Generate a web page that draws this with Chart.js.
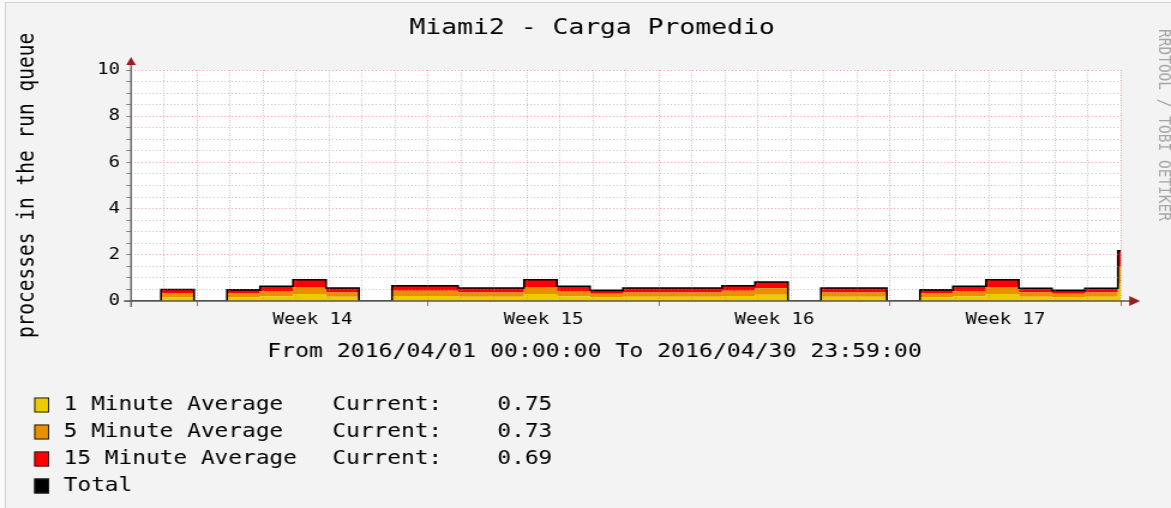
<!DOCTYPE html>
<html>
<head>
<meta charset="utf-8">
<script src="https://cdn.jsdelivr.net/npm/chart.js@4/dist/chart.umd.min.js"></script>
<style>
  html, body { margin: 0; padding: 0; background: #f3f3f3; overflow: hidden; }
  #wrap { width: 1171px; height: 508px; }
  canvas { display: block; }
</style>
</head>
<body>
<div id="wrap"><canvas id="c" width="976" height="508" style="width:1171px;height:508px"></canvas></div>
<script>
// ---------------- data ----------------
const chartTitle = 'Miami2 - Carga Promedio';
const yAxisTitle = 'processes in the run queue';
const xAxisTitle = 'From 2016/04/01 00:00:00 To 2016/04/30 23:59:00';
const watermark = 'RRDTOOL / TOBI OETIKER';

// x axis: days since 2016/04/01 00:00
const X_MIN = 0, X_MAX = 30;
const weekStartDays = [2, 9, 16, 23, 30];
const weekLabels = ['Week 14', 'Week 15', 'Week 16', 'Week 17'];
const weekLabelDays = [5.5, 12.5, 19.5, 26.5];

// y axis
const Y_MIN = 0, Y_MAX = 10;
const yMinorStep = 0.5;
const yLabelEvery = 2;

// samples: one per day (first sample at day -0.09), last one is the final reading
const FIRST_SAMPLE_DAY = -0.09;
const oneMinute     = [0, 0.16, 0, 0.16, 0.21, 0.30, 0.18, 0, 0.22, 0.22, 0.18, 0.18, 0.30, 0.21, 0.15, 0.18, 0.18, 0.18, 0.22, 0.27, 0, 0.18, 0.18, 0, 0.16, 0.21, 0.30, 0.18, 0.15, 0.18, 0.75];
const fiveMinute    = [0, 0.17, 0, 0.16, 0.22, 0.31, 0.19, 0, 0.22, 0.22, 0.19, 0.19, 0.31, 0.22, 0.16, 0.19, 0.19, 0.19, 0.22, 0.28, 0, 0.19, 0.19, 0, 0.16, 0.22, 0.31, 0.19, 0.16, 0.19, 0.73];
const fifteenMinute = [0, 0.17, 0, 0.16, 0.21, 0.31, 0.19, 0, 0.22, 0.22, 0.19, 0.19, 0.31, 0.21, 0.15, 0.19, 0.19, 0.19, 0.22, 0.27, 0, 0.19, 0.19, 0, 0.16, 0.21, 0.31, 0.18, 0.15, 0.18, 0.69];
const totalLoad     = [0, 0.50, 0, 0.48, 0.64, 0.92, 0.56, 0, 0.66, 0.66, 0.56, 0.56, 0.92, 0.64, 0.46, 0.56, 0.56, 0.56, 0.66, 0.82, 0, 0.56, 0.56, 0, 0.48, 0.64, 0.92, 0.55, 0.46, 0.55, 2.17];

const legendNames = ['1 Minute Average', '5 Minute Average', '15 Minute Average', 'Total'];
const legendCurrent = ['0.75', '0.73', '0.69', null];
const currentLabel = 'Current:';

// ---------------- styles ----------------
const MONO = "'DejaVu Sans Mono', 'Liberation Mono', monospace";
const COLORS = ['#EACC00', '#EA8F00', '#FF0000', '#000000'];
const BACK = '#f3f3f3';
const MINOR_GRID = 'rgba(140,140,140,0.5)';
const MAJOR_GRID = 'rgba(240,80,80,0.55)';
const ARROW = '#9b1c1c';
const AXIS = '#5a5a5a';

function toPoints(arr) {
  const pts = arr.map((v, i) => ({ x: FIRST_SAMPLE_DAY + i, y: v }));
  pts.push({ x: X_MAX, y: arr[arr.length - 1] });
  return pts;
}

const rrdPlugin = {
  id: 'rrd',
  beforeDraw(chart) {
    const { ctx, chartArea: a, width, height } = chart;
    ctx.save();
    ctx.fillStyle = BACK;
    ctx.fillRect(0, 0, width, height);
    ctx.fillStyle = '#fafafa';
    ctx.fillRect(0, 0, width, 2);
    ctx.fillRect(0, 0, 4, height);
    ctx.fillStyle = '#d2d2d2';
    ctx.fillRect(4, 2, width - 4, 1);
    ctx.fillRect(4, 2, 1, height - 2);
    ctx.fillStyle = '#ffffff';
    ctx.fillRect(a.left, a.top, a.right - a.left, a.bottom - a.top);
    ctx.restore();
  },
  afterDraw(chart) {
    const { ctx, chartArea: a } = chart;
    ctx.save();
    // axes
    ctx.strokeStyle = AXIS;
    ctx.lineWidth = 1.3;
    ctx.beginPath();
    ctx.moveTo(a.left, a.bottom + 6);
    ctx.lineTo(a.left, a.top - 6);
    ctx.moveTo(a.left - 6, a.bottom);
    ctx.lineTo(a.right + 8, a.bottom);
    ctx.stroke();
    ctx.fillStyle = ARROW;
    ctx.beginPath();
    ctx.moveTo(a.left, a.top - 13);
    ctx.lineTo(a.left - 4, a.top - 5);
    ctx.lineTo(a.left + 4, a.top - 5);
    ctx.closePath();
    ctx.fill();
    ctx.beginPath();
    ctx.moveTo(a.right + 16, a.bottom);
    ctx.lineTo(a.right + 7, a.bottom - 5);
    ctx.lineTo(a.right + 7, a.bottom + 5);
    ctx.closePath();
    ctx.fill();

    ctx.fillStyle = '#000';
    ctx.textAlign = 'center';
    ctx.textBaseline = 'middle';
    // title
    ctx.font = '22px ' + MONO;
    ctx.fillText(chartTitle, 493.5, 28);
    // x axis title
    ctx.font = '19.3px ' + MONO;
    ctx.fillText(xAxisTitle, 495.5, 352);

    // legend
    ctx.font = '19px ' + MONO;
    ctx.textAlign = 'left';
    legendNames.forEach((name, i) => {
      const y = 405 + i * 27;
      ctx.fillStyle = COLORS[i];
      ctx.fillRect(28.5, y - 7.5, 12.5, 15);
      ctx.strokeStyle = '#222';
      ctx.lineWidth = 1;
      ctx.strokeRect(29, y - 7, 11.5, 14);
      ctx.fillStyle = '#000';
      ctx.fillText(name, 53, y);
      if (legendCurrent[i] !== null) {
        ctx.fillText(currentLabel, 277, y);
        ctx.fillText(legendCurrent[i], 414.5, y);
      }
    });

    // watermark
    ctx.translate(970, 125);
    ctx.rotate(Math.PI / 2);
    ctx.fillStyle = '#a6a6a6';
    ctx.font = '14.5px ' + MONO;
    ctx.textAlign = 'center';
    ctx.fillText(watermark, 0, 0);
    ctx.restore();
  }
};

const isInt = v => Math.abs(v - Math.round(v)) < 1e-9;

new Chart(document.getElementById('c'), {
  type: 'line',
  data: {
    datasets: [
      { label: legendNames[0], data: toPoints(oneMinute), backgroundColor: COLORS[0], fill: 'origin', stack: 'load', order: 1 },
      { label: legendNames[1], data: toPoints(fiveMinute), backgroundColor: COLORS[1], fill: '-1', stack: 'load', order: 1 },
      { label: legendNames[2], data: toPoints(fifteenMinute), backgroundColor: COLORS[2], fill: '-1', stack: 'load', order: 1 },
      { label: legendNames[3], data: toPoints(totalLoad), borderColor: COLORS[3], borderWidth: 1.6, fill: false, stack: 'total', order: 0 }
    ].map(d => Object.assign({ stepped: true, pointRadius: 0, borderWidth: 0, tension: 0 }, d, d.stack === 'total' ? {} : { borderWidth: 0, borderColor: 'transparent' }))
  },
  options: {
    responsive: false,
    devicePixelRatio: 1,
    animation: false,
    events: [],
    layout: { padding: { left: 0, right: 41.8, top: 70, bottom: 0 } },
    plugins: {
      legend: { display: false },
      tooltip: { enabled: false },
      title: { display: false }
    },
    scales: {
      x: {
        type: 'linear',
        min: X_MIN,
        max: X_MAX,
        afterBuildTicks: s => {
          const vals = [];
          for (let d = X_MIN; d <= X_MAX; d++) vals.push(d);
          weekLabelDays.forEach(d => vals.push(d));
          vals.sort((p, q) => p - q);
          s.ticks = vals.map(v => ({ value: v }));
        },
        afterFit: s => { s.height = 207; },
        ticks: {
          autoSkip: false, maxRotation: 0, minRotation: 0,
          padding: 4.7,
          color: '#000',
          font: { family: MONO, size: 15.8, lineHeight: 1.2 },
          callback: v => { const i = weekLabelDays.indexOf(v); return i >= 0 ? weekLabels[i] : ''; }
        },
        grid: {
          z: 1,
          lineWidth: 1,
          tickLength: 5,
          color: c => {
            const v = c.tick ? c.tick.value : NaN;
            if (!isInt(v) || v === X_MIN) return 'transparent';
            return weekStartDays.includes(Math.round(v)) ? MAJOR_GRID : MINOR_GRID;
          },
          tickColor: c => {
            const v = c.tick ? c.tick.value : NaN;
            return isInt(v) && weekStartDays.includes(Math.round(v)) ? 'rgba(220,40,40,0.8)' : 'transparent';
          }
        },
        border: { display: false, dash: [1, 1.5] }
      },
      y: {
        stacked: true,
        min: Y_MIN,
        max: Y_MAX,
        afterFit: s => { s.width = 109.2; },
        ticks: {
          stepSize: yMinorStep,
          autoSkip: false,
          padding: 5.2,
          color: '#000',
          font: { family: MONO, size: 15.8, lineHeight: 1.2 },
          callback: v => (isInt(v / yLabelEvery) ? String(v) : '')
        },
        grid: {
          z: 1,
          lineWidth: 1,
          tickLength: 4,
          tickColor: 'rgba(90,90,90,0.7)',
          color: c => {
            const v = c.tick ? c.tick.value : NaN;
            if (v === Y_MIN) return 'transparent';
            return isInt(v / yLabelEvery) ? MAJOR_GRID : MINOR_GRID;
          }
        },
        border: { display: false, dash: [1, 2] },
        title: {
          display: true,
          text: yAxisTitle,
          color: '#000',
          font: { family: MONO, size: 19.5, lineHeight: 1.2 },
          padding: { top: 11, bottom: 0 }
        }
      }
    }
  },
  plugins: [rrdPlugin]
});
</script>
</body>
</html>
